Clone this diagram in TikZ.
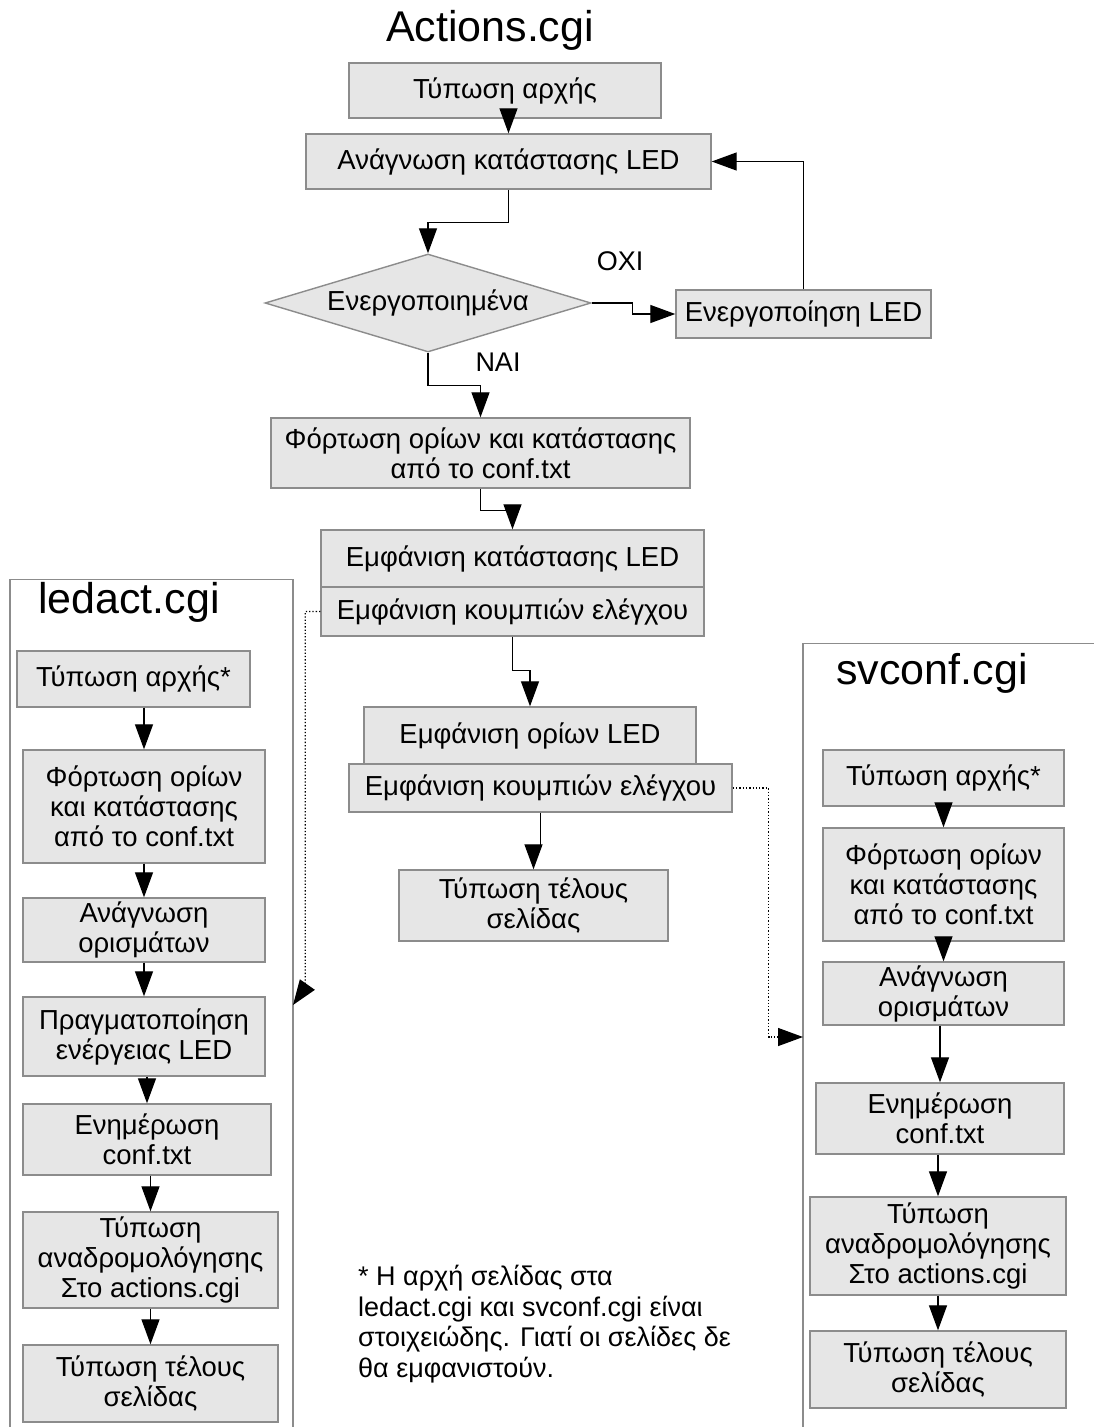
\documentclass[tikz,border=0pt]{standalone}
\usepackage{fontspec}
\setmainfont{Liberation Sans}
\usetikzlibrary{arrows.meta,shapes.geometric,calc}
\definecolor{boxfill}{HTML}{E6E6E6}
\definecolor{boxline}{HTML}{8C8C8C}
\begin{document}
\begin{tikzpicture}[x=1pt,y=-1pt,
  box/.style={draw=boxline, fill=boxfill, line width=1.4pt, align=center, inner sep=0pt,
              font=\fontsize{27.5}{30}\selectfont},
  arr/.style={line width=1.3pt, -{Triangle[length=25pt,width=18pt]}},
  dots/.style={line width=1.3pt, dotted, -{Triangle[length=25pt,width=18pt]}},
  frm/.style={draw=boxline, line width=1.4pt},
  ttl/.style={font=\fontsize{43}{50}\selectfont, inner sep=0pt},
  lbl/.style={font=\fontsize{27}{30}\selectfont, inner sep=0pt}]
\useasboundingbox[fill=white] (0,0) rectangle (1093,1427);

% ---------- main column ----------
\node[ttl] (t1) at (490,30) {Actions.cgi};
\node[box, minimum width=312, minimum height=55] (b1) at (505,90.5) {Τύπωση αρχής};
\node[box, minimum width=405, minimum height=55] (b2) at (508.5,161.5) {Ανάγνωση κατάστασης LED};
\node[box, diamond, aspect=3.3, minimum width=326, minimum height=98] (dia) at (428,303) {Ενεργοποιημένα};
\node[box, minimum width=255, minimum height=48] (act) at (803.5,314) {Ενεργοποίηση LED};
\node[lbl] (oxi) at (620,261) {ΟΧΙ};
\node[lbl] (nai) at (498,362) {ΝΑΙ};
\node[box, minimum width=419, minimum height=70] (b3) at (480.5,453) {Φόρτωση ορίων και κατάστασης\\από το conf.txt};
\node[box, minimum width=383, minimum height=57] (b4a) at (512.5,558.5) {Εμφάνιση κατάστασης LED};
\node[box, minimum width=383, minimum height=49] (b4b) at (512.5,611.5) {Εμφάνιση κουμπιών ελέγχου};
\node[box, minimum width=332, minimum height=57] (b5a) at (530,735.5) {Εμφάνιση ορίων LED};
\node[box, minimum width=383, minimum height=48] (b5b) at (540.5,788) {Εμφάνιση κουμπιών ελέγχου};
\node[box, minimum width=269, minimum height=71] (b6) at (533.5,905.5) {Τύπωση τέλους\\σελίδας};

\draw[arr] (b2.north |- b1.south) -- (b2.north);
\draw[arr] (b2.south) -- ++(0,33) -| (dia.north);
\draw[arr] (dia.east) -- ++(41,0) |- (act.west);
\draw[arr] (act.north) |- (b2.east);
\draw[arr] (dia.south) -- ++(0,33) -| (b3.north);
\draw[arr] (b3.south) -- ++(0,22) -| (b4a.north);
\draw[arr] (b4b.south) -- ++(0,34) -| (b5a.north);
\draw[arr] (b5b.south) -- ++(0,33) -| (b6.north);

% ---------- ledact.cgi ----------
\draw[frm] (10,1430) -- (10,579.5) -- (293,579.5) -- (293,1430);
\node[ttl] (t2) at (129,602) {ledact.cgi};
\node[box, minimum width=233, minimum height=56] (l1) at (133.5,679) {Τύπωση αρχής*};
\node[box, minimum width=242, minimum height=113] (l2) at (144,806.5) {Φόρτωση ορίων\\και κατάστασης\\από το conf.txt};
\node[box, minimum width=242, minimum height=64] (l3) at (144,930) {Ανάγνωση\\ορισμάτων};
\node[box, minimum width=242, minimum height=79] (l4) at (144,1036.5) {Πραγματοποίηση\\ενέργειας LED};
\node[box, minimum width=248, minimum height=71] (l5) at (147,1139.5) {Ενημέρωση\\conf.txt};
\node[box, minimum width=255, minimum height=96] (l6) at (150.5,1260) {Τύπωση\\αναδρομολόγησης\\Στο actions.cgi};
\node[box, minimum width=255, minimum height=77] (l7) at (150.5,1383.5) {Τύπωση τέλους\\σελίδας};
\draw[arr] (l1.south -| l2.north) -- (l2.north);
\draw[arr] (l2.south -| l3.north) -- (l3.north);
\draw[arr] (l3.south -| l4.north) -- (l4.north);
\draw[arr] (l4.south -| l5.north) -- (l5.north);
\draw[arr] (l5.south -| l6.north) -- (l6.north);
\draw[arr] (l6.south -| l7.north) -- (l7.north);

% ---------- svconf.cgi ----------
\draw[frm] (803,1430) -- (803,643.5) -- (1096,643.5);
\node[ttl] (t3) at (932,673) {svconf.cgi};
\node[box, minimum width=241, minimum height=56] (r1) at (943.5,778) {Τύπωση αρχής*};
\node[box, minimum width=241, minimum height=113] (r2) at (943.5,884.5) {Φόρτωση ορίων\\και κατάστασης\\από το conf.txt};
\node[box, minimum width=241, minimum height=63] (r3) at (943.5,993.5) {Ανάγνωση\\ορισμάτων};
\node[box, minimum width=248, minimum height=71] (r4) at (940,1118.5) {Ενημέρωση\\conf.txt};
\node[box, minimum width=256, minimum height=98] (r5) at (938,1246) {Τύπωση\\αναδρομολόγησης\\Στο actions.cgi};
\node[box, minimum width=256, minimum height=77] (r6) at (938,1369.5) {Τύπωση τέλους\\σελίδας};
\draw[arr] (r1.south -| r2.north) -- (r2.north);
\draw[arr] (r2.south -| r3.north) -- (r3.north);
\draw[arr] (r3.south -| r4.north) -- (r4.north);
\draw[arr] (r4.south -| r5.north) -- (r5.north);
\draw[arr] (r5.south -| r6.north) -- (r6.north);

% ---------- dotted links ----------
\coordinate (ledin) at (293,1005);
\coordinate (svin) at (803,1037);
\draw[dots] (b4b.west) -- ++(-15,0) -- ++(0,376) -- (ledin);
\draw[dots] (b5b.east) -- ++(36,0) |- (svin);

% ---------- footnote ----------
\node[lbl, align=left, anchor=base west, font=\fontsize{27}{30.5}\selectfont] (note) at (358,1377)
  {* Η αρχή σελίδας στα\\ledact.cgi και svconf.cgi είναι\\στοιχειώδης. Γιατί οι σελίδες δε\\θα εμφανιστούν.};
\end{tikzpicture}
\end{document}
